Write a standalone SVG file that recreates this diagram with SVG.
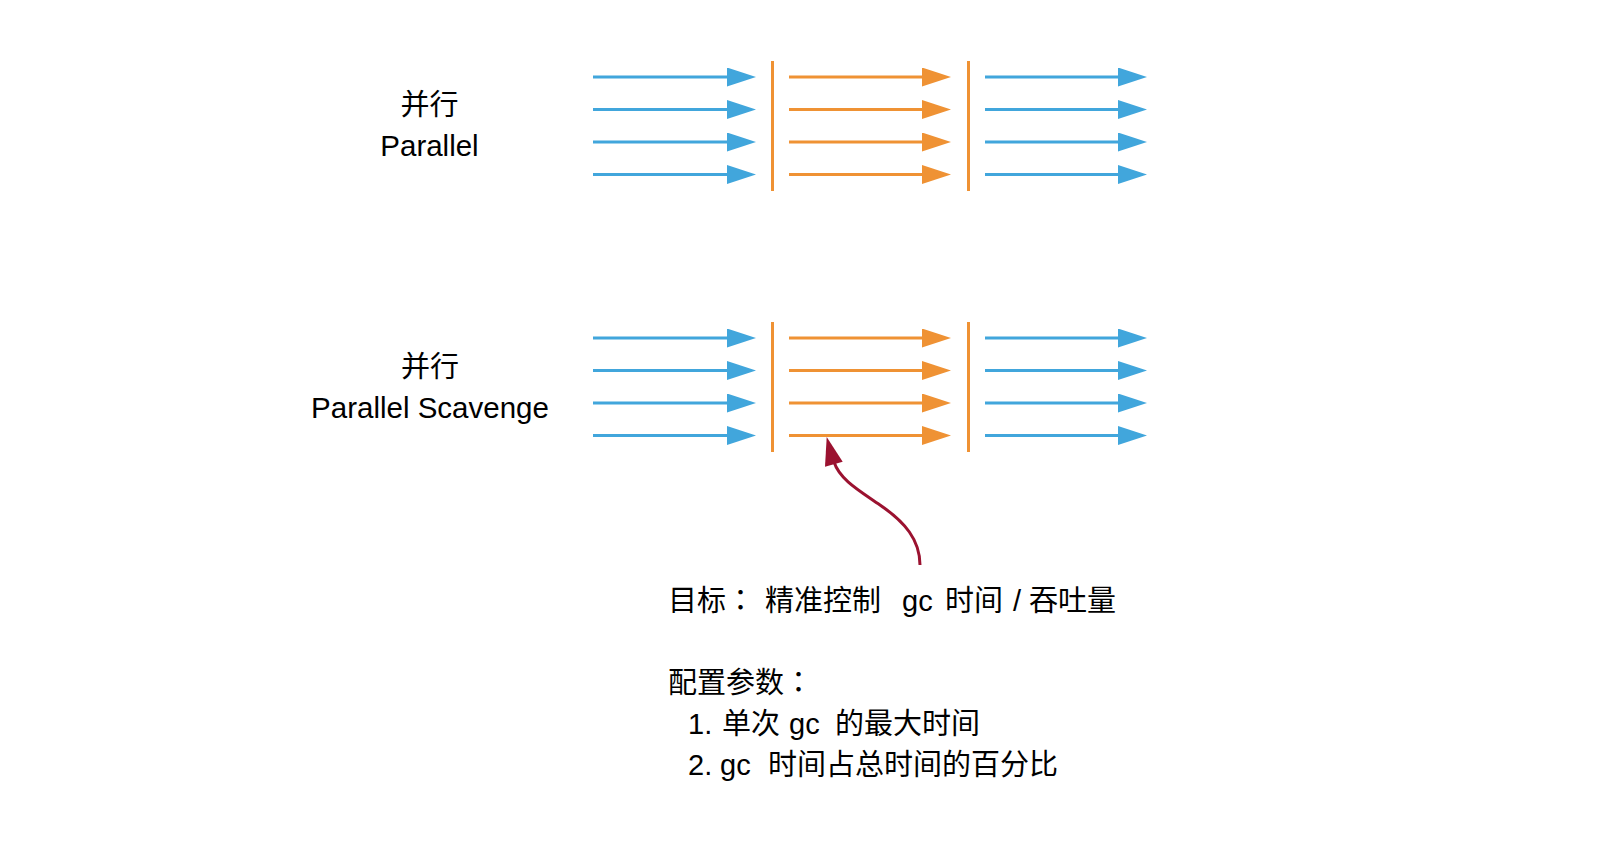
<svg xmlns="http://www.w3.org/2000/svg" width="1620" height="852" viewBox="0 0 1620 852">
<style>
  text { font-family: "Liberation Sans", "Noto Sans CJK SC", sans-serif; font-size: 29px; fill: #000; white-space: pre; }
  .mid { text-anchor: middle; }
  .lat { font-size: 29.5px; }
  .col { font-family: "Noto Sans CJK TC", sans-serif; }
  .blue { stroke: #41a6dc; stroke-width: 3; fill: none; }
  .orange { stroke: #ef9234; stroke-width: 3; fill: none; }
  .bar { stroke: #ef9234; stroke-width: 3; }
  .pointer { stroke: #9b1230; stroke-width: 3; fill: none; }
</style>
<defs>
  <marker id="ab" markerUnits="userSpaceOnUse" markerWidth="30" markerHeight="20" refX="1" refY="9.5" orient="auto">
    <path d="M0,0 L29,9.5 L0,19 z" fill="#41a6dc"/>
  </marker>
  <marker id="ao" markerUnits="userSpaceOnUse" markerWidth="30" markerHeight="20" refX="1" refY="9.5" orient="auto">
    <path d="M0,0 L29,9.5 L0,19 z" fill="#ef9234"/>
  </marker>
</defs>
<rect width="1620" height="852" fill="#fff"/>

<g id="label-parallel">
  <text class="mid" x="429.5" y="115">并行</text>
  <text class="mid lat" x="429.5" y="156">Parallel</text>
</g>
<g id="label-parallel-scavenge">
  <text class="mid" x="430" y="377">并行</text>
  <text class="mid lat" x="430" y="418">Parallel Scavenge</text>
</g>

<g id="connectors">
  <g id="parallel-arrows">
    <line class="blue" x1="593" y1="77" x2="728" y2="77" marker-end="url(#ab)"/>
    <line class="blue" x1="593" y1="109.5" x2="728" y2="109.5" marker-end="url(#ab)"/>
    <line class="blue" x1="593" y1="142" x2="728" y2="142" marker-end="url(#ab)"/>
    <line class="blue" x1="593" y1="174.5" x2="728" y2="174.5" marker-end="url(#ab)"/>
    <line class="bar" x1="772.5" y1="61" x2="772.5" y2="191"/>
    <line class="orange" x1="789" y1="77" x2="923" y2="77" marker-end="url(#ao)"/>
    <line class="orange" x1="789" y1="109.5" x2="923" y2="109.5" marker-end="url(#ao)"/>
    <line class="orange" x1="789" y1="142" x2="923" y2="142" marker-end="url(#ao)"/>
    <line class="orange" x1="789" y1="174.5" x2="923" y2="174.5" marker-end="url(#ao)"/>
    <line class="bar" x1="968.5" y1="61" x2="968.5" y2="191"/>
    <line class="blue" x1="985" y1="77" x2="1119" y2="77" marker-end="url(#ab)"/>
    <line class="blue" x1="985" y1="109.5" x2="1119" y2="109.5" marker-end="url(#ab)"/>
    <line class="blue" x1="985" y1="142" x2="1119" y2="142" marker-end="url(#ab)"/>
    <line class="blue" x1="985" y1="174.5" x2="1119" y2="174.5" marker-end="url(#ab)"/>
  </g>
  <g id="scavenge-arrows">
    <line class="blue" x1="593" y1="338" x2="728" y2="338" marker-end="url(#ab)"/>
    <line class="blue" x1="593" y1="370.5" x2="728" y2="370.5" marker-end="url(#ab)"/>
    <line class="blue" x1="593" y1="403" x2="728" y2="403" marker-end="url(#ab)"/>
    <line class="blue" x1="593" y1="435.5" x2="728" y2="435.5" marker-end="url(#ab)"/>
    <line class="bar" x1="772.5" y1="322" x2="772.5" y2="452"/>
    <line class="orange" x1="789" y1="338" x2="923" y2="338" marker-end="url(#ao)"/>
    <line class="orange" x1="789" y1="370.5" x2="923" y2="370.5" marker-end="url(#ao)"/>
    <line class="orange" x1="789" y1="403" x2="923" y2="403" marker-end="url(#ao)"/>
    <line class="orange" x1="789" y1="435.5" x2="923" y2="435.5" marker-end="url(#ao)"/>
    <line class="bar" x1="968.5" y1="322" x2="968.5" y2="452"/>
    <line class="blue" x1="985" y1="338" x2="1119" y2="338" marker-end="url(#ab)"/>
    <line class="blue" x1="985" y1="370.5" x2="1119" y2="370.5" marker-end="url(#ab)"/>
    <line class="blue" x1="985" y1="403" x2="1119" y2="403" marker-end="url(#ab)"/>
    <line class="blue" x1="985" y1="435.5" x2="1119" y2="435.5" marker-end="url(#ab)"/>
  </g>
  <g id="pointer">
    <path class="pointer" d="M920,565 C920,540 905,522 880,505 C860,491 840,480 834,462"/>
    <polygon points="826.7,437 842.7,461.7 825,466.7" fill="#9b1230"/>
  </g>
</g>

<g id="note">
  <text y="610.5"><tspan x="668">目标</tspan><tspan class="col">：</tspan><tspan x="765">精准控制</tspan><tspan x="902">gc</tspan><tspan x="945">时间</tspan><tspan x="1013">/</tspan><tspan x="1029">吞吐量</tspan></text>
  <text x="668" y="693">配置参数<tspan class="col">：</tspan></text>
  <text y="734"><tspan x="688">1.</tspan><tspan x="722">单次</tspan><tspan x="789">gc</tspan><tspan x="835">的最大时间</tspan></text>
  <text y="775"><tspan x="688">2.</tspan><tspan x="720">gc</tspan><tspan x="768">时间占总时间的百分比</tspan></text>
</g>
</svg>
